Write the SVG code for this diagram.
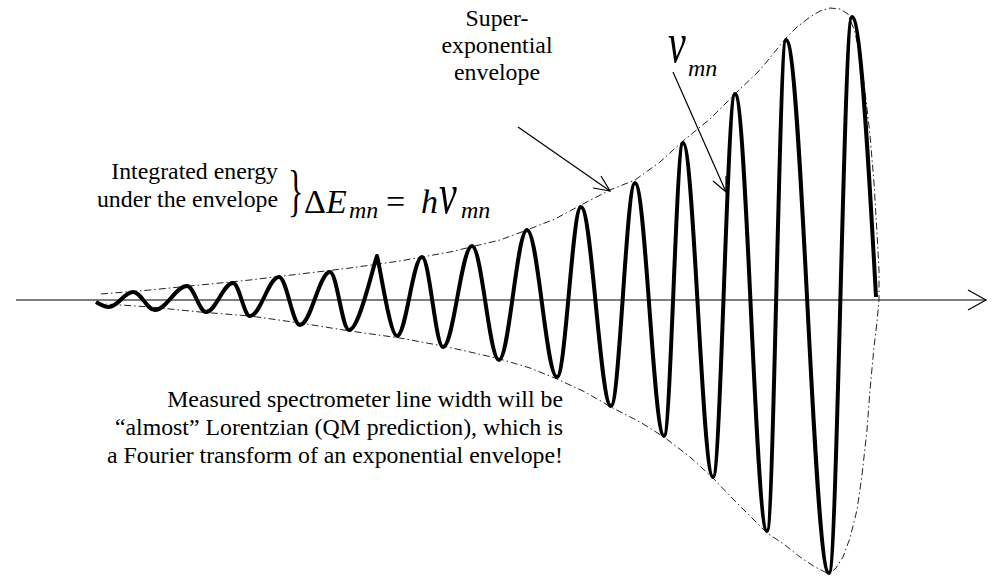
<svg xmlns="http://www.w3.org/2000/svg" width="995" height="576" viewBox="0 0 995 576">
<style>
text{font-family:'Liberation Serif','Times New Roman',Tinos,'DejaVu Serif','Noto Serif',serif;fill:#000}
.t{font-size:23.8px}
.i{font-style:italic}
.ln{fill:none;stroke:#000;stroke-width:1.2}
.env{fill:none;stroke:#222;stroke-width:1;stroke-dasharray:7 3 1.5 3}
.wave{fill:none;stroke:#000;stroke-width:4;stroke-linejoin:round;stroke-linecap:butt}
</style>
<rect width="995" height="576" fill="#fff"/>
<g id="axis">
<line class="ln" x1="16" y1="300" x2="986" y2="300" stroke="#333"/>
<polyline class="ln" points="968,290 986,300 968,310"/>
</g>
<g id="envelope">
<polyline class="env" points="101,294 150,290 200,285 250,280 300,274 350,268 400,261 450,252 500,240 527,230 555,219 581,205 610,190 635,180 660,162 683,141 710,119 735,94 760,70 786,38 797,27 810,17 820,11 830,8 840,9 848,14 855,32 862,67 866,100 870,135 874,183 877,233 879,270 879,300 877,322 874,347 870,390 867,430 862,475 857,510 850,538 843,557 836,568 829,574 815,567 800,557 785,545 767,533 750,516 730,496 713,478 690,457 664,437 640,422 611,407 585,392 557,379 530,368 500,359 470,352 443,346 400,338 350,331 300,323 250,316 200,312 150,307 106,304"/>
</g>
<g id="wave">
<path class="wave" d="M96,302 C101,305 105,307 109,307 C117.7,307 124.3,292 133,292 C141,292 147,310 155,310 C166.6,310 175.4,286 187,286 C193.9,286 199.1,312 206,312 C215.8,312 223.2,283 233,283 C239.2,283 243.8,316 250,316 C260.6,316 268.4,277 279,277 C286.6,277 292.4,325 300,325 C310.9,325 319.1,272 330,272 C336.9,272 342.1,330 349,330 C359,330 372,270 377,256 C380,266 390,336 397,336 C406.1,336 412.9,257 422,257 C429.6,257 435.4,347 443,347 C453.6,347 461.4,246 472,246 C481.8,246 489.2,360 499,360 C509.2,360 516.8,230 527,230 C537.9,230 546.1,377 557,377 C565.7,377 572.3,207 581,207 C591.9,207 600.1,406 611,406 C619.7,406 626.3,183 635,183 C645.6,183 653.4,436 664,436 C670.9,436 676.1,143 683,143 C693.9,143 702.1,477 713,477 C721,477 727,94 735,94 C746.6,94 755.4,531 767,531 C773.9,531 779.1,40 786,40 C801.7,40 813.3,573 829,573 C837.4,573 843.6,17 852,17 C860.4,17 868.2,154 876,297"/>
</g>
<g id="connectors">
<line class="ln" x1="518" y1="127" x2="610" y2="191"/>
<polyline class="ln" points="593,188 610,191 601,176"/>
<line class="ln" x1="673" y1="72" x2="726" y2="192"/>
<polyline class="ln" points="713,181 726,192 726,176"/>
</g>
<g id="label-super">
<text class="t" x="497" y="26" text-anchor="middle">Super-</text>
<text class="t" x="497" y="53" text-anchor="middle">exponential</text>
<text class="t" x="497" y="80" text-anchor="middle">envelope</text>
</g>
<g id="label-nu">
<text class="i" transform="translate(668,62) scale(1,1.45)" font-size="40">ν</text>
<text class="i" x="688" y="76" font-size="24">mn</text>
</g>
<g id="label-energy">
<text class="t" x="278" y="179" text-anchor="end">Integrated energy</text>
<text class="t" x="278" y="207" text-anchor="end">under the envelope</text>
<text transform="translate(288,210) scale(0.55,1)" font-size="58">}</text>
<text x="304" y="213" font-size="34">Δ<tspan class="i">E</tspan></text>
<text class="i" x="349" y="218" font-size="24">mn</text>
<text x="386" y="213" font-size="34">=</text>
<text class="i" x="421" y="213" font-size="34">h</text>
<text class="i" transform="translate(439,213) scale(1,1.45)" font-size="40">ν</text>
<text class="i" x="461" y="218" font-size="24">mn</text>
</g>
<g id="label-bottom">
<text class="t" x="563" y="407" text-anchor="end">Measured spectrometer line width will be</text>
<text class="t" x="563" y="435" text-anchor="end">“almost” Lorentzian (QM prediction), which is</text>
<text class="t" x="563" y="463" text-anchor="end">a Fourier transform of an exponential envelope!</text>
</g>
</svg>
